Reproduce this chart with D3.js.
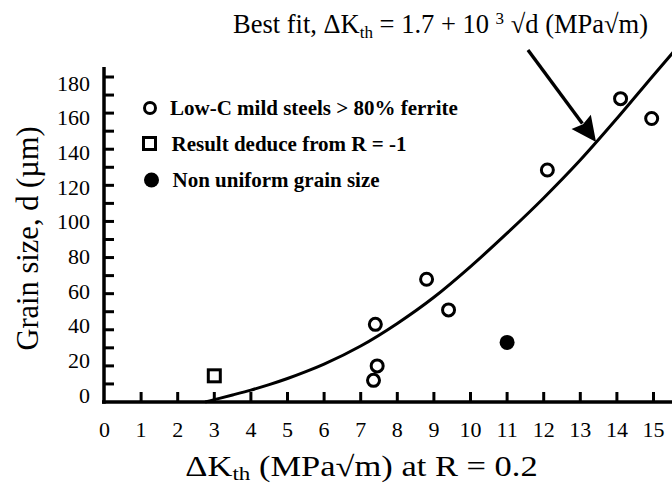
<!DOCTYPE html>
<html>
<head>
<meta charset="utf-8">
<script src="https://cdn.jsdelivr.net/npm/d3@7"></script>
<style>
  html, body { margin: 0; padding: 0; background: #fff; }
  svg { display: block; }
  text { font-family: "Liberation Serif", "Times New Roman", serif; fill: #000; }
</style>
</head>
<body>
<svg id="chart" width="672" height="486"></svg>
<script>
// ---- data ----
const xTicks = d3.range(0, 16);                 // 0..15
const yLabelTicks = d3.range(0, 181, 20);       // 0..180 labelled
const yMinorTicks = d3.range(10, 181, 10);      // tick marks every 10

// Low-C mild steels > 80% ferrite (open circles): [ΔKth, d]
const lowCX = [7.35, 7.45, 7.4, 8.8, 9.4, 12.1, 14.1, 14.95];
const lowCY = [12, 20, 43, 68, 51, 128.5, 168, 157];
// Result deduced from R = -1 (open square)
const rMinusX = [3.0];
const rMinusY = [14.5];
// Non uniform grain size (filled circle)
const nonUnifX = [11.0];
const nonUnifY = [33];

// Best-fit curve, points
const fitX = [2.75, 3.0, 3.5, 4.0, 4.5, 5.0, 5.5, 6.0, 7.0, 8.0, 9.0, 10.0, 11.0, 12.0, 13.0, 14.0, 15.0, 15.55];
const fitY = [0, 1.3, 3.9, 6.6, 9.6, 13, 16.8, 21, 31, 43.5, 58, 75, 93.5, 113, 134, 157, 181, 194];

// Annotation arrow (start, tip) in data units
const arrowX = [11.57, 13.43];
const arrowY = [195, 144];

const legendLabels = ["Low-C mild steels > 80% ferrite", "Result deduce from R = -1", "Non uniform grain size"];

// ---- drawing ----
const svg = d3.select("#chart");
const x = d3.scaleLinear().domain([0, 15]).range([104.5, 653.5]);
const y = d3.scaleLinear().domain([0, 180]).range([402, 77]);
// tick labels in the reference sit on a slightly compressed scale
const yLab = d3.scaleLinear().domain([0, 180]).range([395, 83]);

// Axes lines
svg.append("line").attr("x1", 102).attr("x2", 672).attr("y1", y(0)).attr("y2", y(0))
  .attr("stroke", "#000").attr("stroke-width", 3.5);
svg.append("line").attr("x1", 104).attr("x2", 104).attr("y1", 67).attr("y2", y(0) + 1.75)
  .attr("stroke", "#000").attr("stroke-width", 3.5);

// X ticks (inward, upward)
svg.append("g").selectAll("line").data(xTicks.filter(d => d > 0)).join("line")
  .attr("x1", d => x(d)).attr("x2", d => x(d))
  .attr("y1", y(0)).attr("y2", y(0) - 10)
  .attr("stroke", "#000").attr("stroke-width", 3);
svg.append("g").selectAll("text").data(xTicks).join("text")
  .attr("x", d => x(d)).attr("y", y(0) + 35)
  .attr("text-anchor", "middle").attr("font-size", 22)
  .text(d => d);

// Y ticks (inward, to the right)
svg.append("g").selectAll("line").data(yMinorTicks).join("line")
  .attr("x1", 104).attr("x2", 114)
  .attr("y1", d => y(d)).attr("y2", d => y(d))
  .attr("stroke", "#000").attr("stroke-width", 3);
svg.append("g").selectAll("text").data(yLabelTicks).join("text")
  .attr("x", 90).attr("y", d => yLab(d)).attr("dy", "0.35em")
  .attr("text-anchor", "end").attr("font-size", 22)
  .text(d => d);

// Axis titles
const xt = svg.append("text").attr("transform", "translate(361.5,476) scale(1.21,1)")
  .attr("text-anchor", "middle").attr("font-size", 28.5);
xt.append("tspan").text("\u0394K");
xt.append("tspan").attr("font-size", 19).attr("dy", 4).text("th");
xt.append("tspan").attr("dy", -4).text(" (MPa\u221Am) at R = 0.2");

svg.append("text").attr("transform", "translate(38,238.5) rotate(-90)")
  .attr("text-anchor", "middle").attr("font-size", 30.5)
  .text("Grain size, d (\u00B5m)");

// Title / best fit annotation
const tt = svg.append("text").attr("x", 233).attr("y", 33).attr("font-size", 26.5);
tt.append("tspan").text("Best fit, \u0394K");
tt.append("tspan").attr("font-size", 17).attr("dy", 5).text("th");
tt.append("tspan").attr("dy", -5).text(" = 1.7 + 10 ");
tt.append("tspan").attr("font-size", 17).attr("dy", -9).text("3");
tt.append("tspan").attr("dy", 9).text(" \u221Ad (MPa\u221Am)");

// Best fit curve
const fitPts = fitX.map((v, i) => [v, fitY[i]]);
svg.append("path").datum(fitPts)
  .attr("d", d3.line().x(d => x(d[0])).y(d => y(d[1])).curve(d3.curveMonotoneX))
  .attr("fill", "none").attr("stroke", "#000").attr("stroke-width", 3);

// Arrow
const ax0 = x(arrowX[0]), ay0 = y(arrowY[0]), ax1 = x(arrowX[1]), ay1 = y(arrowY[1]);
const dx = ax1 - ax0, dy = ay1 - ay0, len = Math.hypot(dx, dy);
const ux = dx / len, uy = dy / len;
const headL = 25, headW = 12;
const bx = ax1 - ux * headL, by = ay1 - uy * headL;
svg.append("line").attr("x1", ax0).attr("y1", ay0).attr("x2", bx + ux * 2).attr("y2", by + uy * 2)
  .attr("stroke", "#000").attr("stroke-width", 3.4);
svg.append("path")
  .attr("d", `M${ax1},${ay1} L${bx - uy * headW},${by + ux * headW} L${bx + ux*3},${by + uy*3} L${bx + uy * headW},${by - ux * headW} Z`)
  .attr("fill", "#000");

// Data points
svg.append("g").selectAll("circle").data(lowCX.map((v, i) => [v, lowCY[i]])).join("circle")
  .attr("cx", d => x(d[0])).attr("cy", d => y(d[1])).attr("r", 6)
  .attr("fill", "#fff").attr("stroke", "#000").attr("stroke-width", 3);
svg.append("g").selectAll("rect").data(rMinusX.map((v, i) => [v, rMinusY[i]])).join("rect")
  .attr("x", d => x(d[0]) - 6).attr("y", d => y(d[1]) - 6).attr("width", 12).attr("height", 12)
  .attr("fill", "#fff").attr("stroke", "#000").attr("stroke-width", 3);
svg.append("g").selectAll("circle").data(nonUnifX.map((v, i) => [v, nonUnifY[i]])).join("circle")
  .attr("cx", d => x(d[0])).attr("cy", d => y(d[1])).attr("r", 7.5)
  .attr("fill", "#000");

// Legend
const lg = svg.append("g");
const rows = [108, 143.5, 180];
lg.append("circle").attr("cx", 150).attr("cy", rows[0]).attr("r", 5.5)
  .attr("fill", "#fff").attr("stroke", "#000").attr("stroke-width", 3);
lg.append("rect").attr("x", 143.5).attr("y", rows[1] - 6).attr("width", 12).attr("height", 12)
  .attr("fill", "#fff").attr("stroke", "#000").attr("stroke-width", 3);
lg.append("circle").attr("cx", 151.5).attr("cy", rows[2]).attr("r", 7.5).attr("fill", "#000");
lg.selectAll("text").data(legendLabels).join("text")
  .attr("x", (d, i) => [170, 171.5, 172.5][i]).attr("y", (d, i) => rows[i] + 7)
  .attr("font-size", 21).attr("font-weight", "bold")
  .text(d => d);
</script>
</body>
</html>
